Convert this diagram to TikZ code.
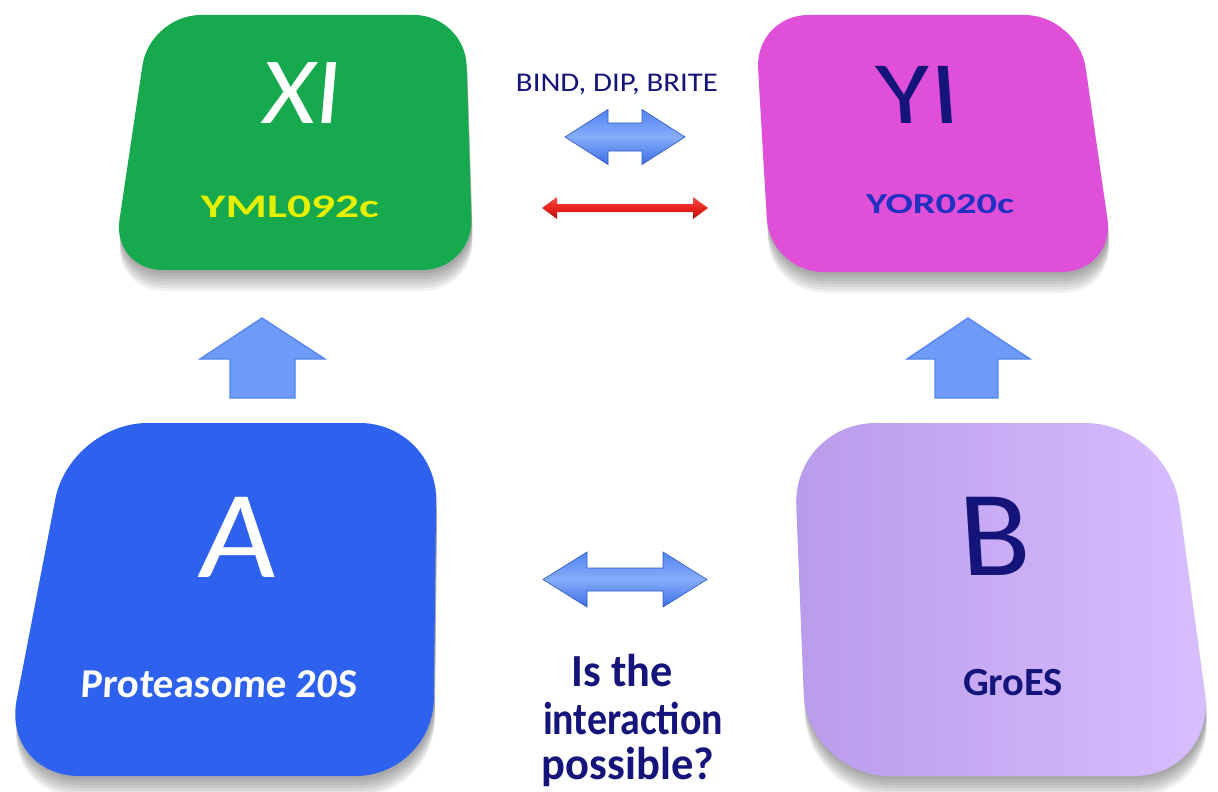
\documentclass[tikz,border=0pt]{standalone}
\usepackage{fontspec}
\usepackage{graphicx}
\setmainfont{Carlito}
\newfontfamily\slantR[FakeSlant=0.08]{Carlito}
\newfontfamily\slantA[FakeSlant=0.06]{Carlito}
\newfontfamily\slantP[FakeSlant=0.06]{Carlito}
\newfontfamily\slantL[FakeSlant=-0.06]{Carlito}
\newdimen\pxu \pxu=0.75pt
% text fitted to a given width (px), keeping its height
\newcommand\fitw[2]{\resizebox{#1\pxu}{\height}{#2}}
\newcommand\fs[1]{\fontsize{#1\pxu}{1.2\dimexpr#1\pxu\relax}\selectfont}

\definecolor{tileGreen}{HTML}{17A94E}
\definecolor{tileMagenta}{HTML}{DF4FD8}
\definecolor{tileBlue}{HTML}{2E62EE}
\definecolor{lavL}{HTML}{B99BEB}
\definecolor{lavR}{HTML}{D9BEFF}
\definecolor{navy}{HTML}{14147A}
\definecolor{ymlYellow}{HTML}{E4F000}
\definecolor{yorBlue}{HTML}{2030C0}
\definecolor{arrTop}{HTML}{5284F0}
\definecolor{arrMid}{HTML}{86ADFB}
\definecolor{arrBot}{HTML}{3B6EE4}
\definecolor{upFill}{HTML}{6D9BF7}
\definecolor{upEdge}{HTML}{5585EE}
\definecolor{redArr}{HTML}{E8231C}
\definecolor{redDark}{HTML}{B01410}

% rounded quadrilateral tile with a soft drop shadow
% #1 radius, #2..#5 corners TL TR BR BL, #6 fill options
\newcommand\tile[6]{%
  \foreach \s in {3,6,...,21}{%
    \fill[black,opacity=0.055,rounded corners=#1,shift={(1,\s)}]
      #2 -- #3 -- #4 -- #5 -- cycle;}
  \path[rounded corners=#1,#6] #2 -- #3 -- #4 -- #5 -- cycle;
}
% horizontal block double arrow: #1 left x, #2 right x, #3 centre y,
% #4 half head height, #5 half shaft height, #6 head length, #7 style
\newcommand\dblarrow[7]{%
  \path[#7] (#1,#3) -- (#1+#6,#3-#4) -- (#1+#6,#3-#5) -- (#2-#6,#3-#5)
    -- (#2-#6,#3-#4) -- (#2,#3) -- (#2-#6,#3+#4) -- (#2-#6,#3+#5)
    -- (#1+#6,#3+#5) -- (#1+#6,#3+#4) -- cycle;
}

\tikzset{
  blockarrow/.style={top color=arrTop, bottom color=arrBot, middle color=arrMid,
    draw=arrBot!85!black, line width=0.5pt},
  redarrow/.style={top color=redArr!80, bottom color=redDark, middle color=redArr,
    line join=miter},
  uparrow/.style={fill=upFill, draw=upEdge, line width=1pt, line join=miter},
  lbl/.style={inner sep=0pt, anchor=base},
}

\begin{document}
\begin{tikzpicture}[x=0.75pt,y=-0.75pt]
\useasboundingbox (0,0) rectangle (1218,792);
\fill[white] (0,0) rectangle (1218,792);

% ---- tiles ----
\tile{38}{(150,15)}{(465,15)}{(473,270)}{(112,270)}{fill=tileGreen}
\tile{40}{(755,15)}{(1078,15)}{(1115,272)}{(770,272)}{fill=tileMagenta}
\tile{58}{(70,423)}{(437,423)}{(433,776)}{(2,776)}{fill=tileBlue}
\tile{62}{(793,423)}{(1168,423)}{(1216,776)}{(807,776)}{left color=lavL, right color=lavR}

% ---- tile labels ----
\node[lbl, white] (xi) at (300,123) {\fs{95}\slantR\fitw{80}{XI}};
\node[lbl, ymlYellow] (xig) at (290,218) {\fs{33}\bfseries\fitw{178}{YML092c}};
\node[lbl, navy] (yi) at (920,123) {\fs{89}\slantL\fitw{82}{YI}};
\node[lbl, yorBlue] (yig) at (940,213) {\fs{29}\bfseries\fitw{148}{YOR020c}};
\node[lbl, white] (a) at (236,577) {\fs{125}\slantA\fitw{78}{A}};
\node[lbl, white] (ag) at (219,697) {\fs{41}\slantP\bfseries\fitw{276}{Proteasome 20S}};
\node[lbl, navy] (b) at (997,575) {\fs{122}\slantL\fitw{70}{B}};
\node[lbl, navy] (bg) at (1013,695) {\fs{40}\bfseries\fitw{100}{GroES}};

% ---- database label and arrows between the top tiles ----
\node[lbl, navy] (db) at (617,92) {\fs{27}\fitw{202}{BIND, DIP, BRITE}};
\dblarrow{565}{685}{137}{27.5}{14}{43}{blockarrow}
\dblarrow{542}{708}{208}{11}{4}{15}{redarrow}

% ---- arrows from the lower tiles up to the upper tiles ----
\path[uparrow] (262,318) -- (325,359) -- (295,359) -- (295,398) -- (230,398)
  -- (230,359) -- (200,359) -- cycle;
\path[uparrow] (968,318) -- (1030,359) -- (998,359) -- (998,398) -- (935,398)
  -- (935,359) -- (907,359) -- cycle;

% ---- question between the lower tiles ----
\dblarrow{543}{707}{579.5}{27.5}{11.5}{44}{blockarrow}
\node[lbl, navy] (q1) at (622,686) {\fs{46}\bfseries\fitw{101}{Is the}};
\node[lbl, navy] (q2) at (633,734) {\fs{46}\bfseries\fitw{180}{interaction}};
\node[lbl, navy] (q3) at (628,779) {\fs{46}\bfseries\fitw{172}{possible?}};
\end{tikzpicture}
\end{document}
